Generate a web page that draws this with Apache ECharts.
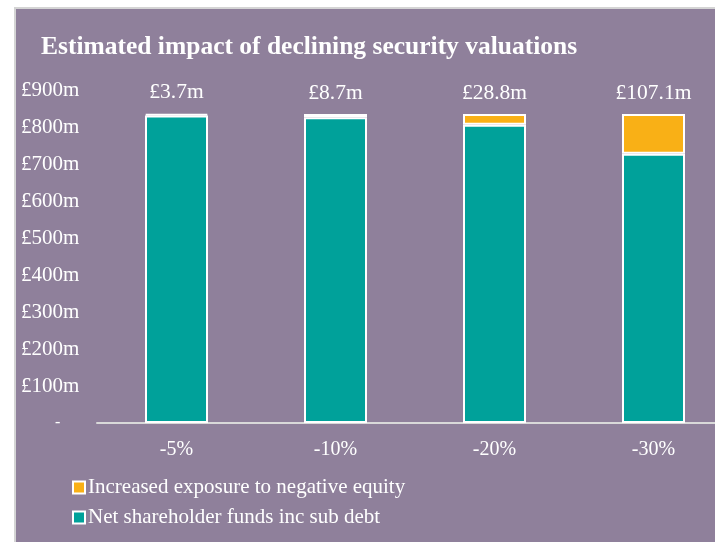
<!DOCTYPE html>
<html>
<head>
<meta charset="utf-8">
<script src="https://cdn.jsdelivr.net/npm/echarts@6/dist/echarts.min.js"></script>
<style>
  html, body { margin: 0; padding: 0; background: #ffffff; }
  #panel {
    position: absolute; left: 14px; top: 7px; width: 705px; height: 540px;
    background: #8f809b; border-top: 2px solid #d4d4d4; border-left: 2px solid #d4d4d4;
  }
  #chart { position: absolute; left: 0; top: 0; width: 715px; height: 542px; }
</style>
</head>
<body>
<div id="panel"></div>
<div id="chart"></div>
<script>
const categories = ['-5%', '-10%', '-20%', '-30%'];
const netFunds = [831.3, 826.3, 806.2, 727.9];
const negativeEquity = [3.7, 8.7, 28.8, 107.1];
const yTicks = { min: 0, max: 900, step: 100 };

const font = 'Liberation Serif';
const chart = echarts.init(document.getElementById('chart'));

chart.setOption({
  textStyle: { fontFamily: font },
  title: {
    text: 'Estimated impact of declining security valuations',
    left: 36, top: 29,
    textStyle: { color: '#ffffff', fontFamily: font, fontSize: 25.5, fontWeight: 'bold' }
  },
  legend: {
    orient: 'vertical', left: 67, top: 472,
    icon: 'rect',
    itemWidth: 12, itemHeight: 12, itemGap: 9,
    data: ['Increased exposure to negative equity', 'Net shareholder funds inc sub debt'],
    textStyle: { color: '#ffffff', fontFamily: font, fontSize: 21, padding: [0, 0, 0, -2] }
  },
  grid: { left: 97, top: 90, width: 636, height: 333, outerBoundsMode: 'none' },
  xAxis: {
    type: 'category',
    data: categories,
    axisLine: { lineStyle: { color: '#d9d9d9', width: 2 } },
    axisTick: { show: false },
    axisLabel: { color: '#ffffff', fontFamily: font, fontSize: 20, margin: 17 }
  },
  yAxis: {
    type: 'value',
    min: yTicks.min, max: yTicks.max, interval: yTicks.step,
    splitLine: { show: false },
    axisLine: { show: false },
    axisTick: { show: false },
    axisLabel: {
      color: '#ffffff', fontFamily: font, fontSize: 21, align: 'left', margin: 76,
      formatter: v => v === 0 ? '{d|-}' : '£' + v + 'm',
      rich: { d: { color: '#ffffff', fontSize: 16, padding: [0, 0, 0, 34] } }
    }
  },
  series: [
    {
      name: 'Net shareholder funds inc sub debt',
      type: 'bar', stack: 'total', barWidth: 63,
      data: netFunds,
      itemStyle: { color: '#00a19a', borderColor: '#ffffff', borderWidth: 2 }
    },
    {
      name: 'Increased exposure to negative equity',
      type: 'bar', stack: 'total', barWidth: 63,
      data: negativeEquity,
      itemStyle: { color: '#f9b016', borderColor: '#ffffff', borderWidth: 2 },
      label: {
        show: true, position: 'top', distance: 10,
        color: '#ffffff', fontFamily: font, fontSize: 21.5,
        formatter: p => '£' + p.value + 'm'
      }
    }
  ]
});
</script>
</body>
</html>
